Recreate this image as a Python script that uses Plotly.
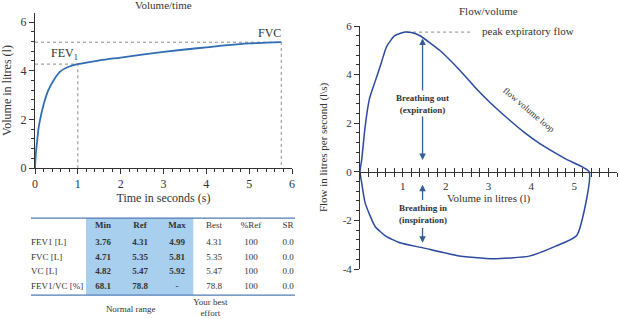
import plotly.graph_objects as go

# ---------------- data ----------------
time_s = [0, 0.02, 0.05, 0.08, 0.12, 0.2, 0.3, 0.45, 0.6, 0.8, 1.0, 1.5, 2, 2.5, 3, 3.5, 4, 4.5, 5, 5.4, 5.75]
volume_l = [0, 0.6, 1.1, 1.6, 2.0, 2.6, 3.15, 3.65, 3.98, 4.17, 4.27, 4.42, 4.54, 4.66, 4.77, 4.87, 4.96, 5.05, 5.12, 5.15, 5.17]
fev1_t, fev1_v = 1.0, 4.27
fvc_t, fvc_v = 5.75, 5.17

loop_vol = [0, 0.04, 0.12, 0.22, 0.35, 0.5, 0.62, 0.81, 1.05, 1.2, 1.4, 1.86, 2.33, 2.7, 3.06, 3.49, 3.85, 4.19, 4.81, 5.35,
            5.06, 4.57, 3.95, 3.10, 2.25, 1.47, 0.93, 0.6, 0.35, 0.12, 0.04, 0]
loop_flow = [0, 0.5, 1.86, 3.0, 3.7, 4.5, 5.15, 5.6, 5.75, 5.73, 5.6, 5.0, 4.18, 3.45, 2.81, 2.13, 1.6, 1.17, 0.52, 0,
             -2.62, -3.06, -3.47, -3.58, -3.44, -3.13, -2.92, -2.65, -2.24, -1.28, -0.46, 0]
pef_vol, pef_flow = 1.1, 5.75

table_rows = ["FEV1 [L]", "FVC [L]", "VC [L]", "FEV1/VC [%]"]
table_cols = ["Min", "Ref", "Max", "Best", "%Ref", "SR"]
table_vals = [
    ["3.76", "4.31", "4.99", "4.31", "100", "0.0"],
    ["4.71", "5.35", "5.81", "5.35", "100", "0.0"],
    ["4.82", "5.47", "5.92", "5.47", "100", "0.0"],
    ["68.1", "78.8", "-", "78.8", "100", "0.0"],
]
normal_cols = [0, 1, 2]
footer_texts = ["Normal range", "Your best<br>effort"]

# ---------------- style ----------------
FONT = "Liberation Serif"
TXT = "#333333"
W, H = 619, 319

fig = go.Figure()

# Left: volume/time
fig.add_trace(go.Scatter(x=[0, fev1_t, fev1_t], y=[fev1_v, fev1_v, 0], mode="lines",
                         line=dict(color="#8a8a8a", width=1, dash="dot"), xaxis="x", yaxis="y", hoverinfo="skip"))
fig.add_trace(go.Scatter(x=[0, fvc_t, fvc_t], y=[fvc_v, fvc_v, 0], mode="lines",
                         line=dict(color="#8a8a8a", width=1, dash="dot"), xaxis="x", yaxis="y", hoverinfo="skip"))
fig.add_trace(go.Scatter(x=time_s, y=volume_l, mode="lines", line=dict(color="#2f6db5", width=1.8, shape="spline"),
                         xaxis="x", yaxis="y"))

# Right: flow/volume
fig.add_trace(go.Scatter(x=[pef_vol, 2.6], y=[pef_flow, pef_flow], mode="lines",
                         line=dict(color="#8a8a8a", width=1, dash="dot"), xaxis="x2", yaxis="y2", hoverinfo="skip"))
fig.add_trace(go.Scatter(x=loop_vol, y=loop_flow, mode="lines", line=dict(color="#2b4a9e", width=1.5, shape="spline", smoothing=0.5),
                         xaxis="x2", yaxis="y2"))
fig.add_trace(go.Scatter(x=[0], y=[0], mode="markers", marker=dict(opacity=0), xaxis="x4", yaxis="y2", hoverinfo="skip"))

# Table (column index / row index coordinates)
col_x = list(range(1, len(table_cols) + 1))
label_x = -0.946
hdr_y = -0.2
row_y = list(range(1, len(table_rows) + 1))
TF = dict(family=FONT, size=9, color=TXT)
fig.add_trace(go.Scatter(x=col_x, y=[hdr_y] * len(table_cols),
                         text=[("<b>%s</b>" % c) if i in normal_cols else c for i, c in enumerate(table_cols)],
                         mode="text", textfont=TF, xaxis="x3", yaxis="y3", hoverinfo="skip"))
for r, (lab, vals) in enumerate(zip(table_rows, table_vals)):
    fig.add_trace(go.Scatter(x=[label_x], y=[row_y[r]], text=[lab], mode="text", textposition="middle right",
                             textfont=TF, xaxis="x3", yaxis="y3", hoverinfo="skip"))
    fig.add_trace(go.Scatter(x=col_x, y=[row_y[r]] * len(vals),
                             text=[("<b>%s</b>" % v) if i in normal_cols else v for i, v in enumerate(vals)],
                             mode="text", textfont=TF, xaxis="x3", yaxis="y3", hoverinfo="skip"))
fig.add_trace(go.Scatter(x=[1.75, 3.9], y=[5.62, 5.5], text=footer_texts, mode="text",
                         textfont=TF, xaxis="x3", yaxis="y3", hoverinfo="skip"))

shapes = [
    dict(type="rect", xref="x3", yref="y3", x0=col_x[normal_cols[0]] - 0.46, x1=col_x[normal_cols[-1]] + 0.44,
         y0=-0.72, y1=4.59, fillcolor="#a8cfee", line=dict(width=0), layer="below"),
    dict(type="line", xref="x3", yref="y3", x0=label_x, x1=6.19, y0=-0.72, y1=-0.72, line=dict(color="#4f7db5", width=1.2)),
    dict(type="line", xref="x3", yref="y3", x0=label_x, x1=6.19, y0=4.59, y1=4.59, line=dict(color="#4f7db5", width=1.2)),
]

ax_common = dict(showline=True, linecolor=TXT, linewidth=1, showgrid=False, zeroline=False, automargin=False,
                 ticks="outside", tickcolor=TXT, tickfont=dict(family=FONT, size=12, color=TXT))
MINUS = "\u2212"

layout = dict(
    width=W, height=H, margin=dict(l=0, r=0, t=0, b=0, autoexpand=False),
    paper_bgcolor="white", plot_bgcolor="rgba(0,0,0,0)", showlegend=False,
    font=dict(family=FONT, color=TXT),
    xaxis=dict(ax_common, domain=[35 / W, 292 / W], range=[0, 6], tickmode="linear", tick0=0, dtick=1, ticklen=5,
               minor=dict(dtick=0.2, ticklen=3, ticks="outside", tickcolor=TXT, showgrid=False), anchor="y",
               title=dict(text="Time in seconds (s)", font=dict(family=FONT, size=12, color=TXT), standoff=2)),
    yaxis=dict(ax_common, domain=[1 - 168 / H, 1 - 13 / H], range=[0, 6.37], tickmode="linear", tick0=0, dtick=2, ticklen=5,
               minor=dict(dtick=0.4, ticklen=3, ticks="outside", tickcolor=TXT, showgrid=False), anchor="x",
               title=dict(text="Volume in litres (l)", font=dict(family=FONT, size=12, color=TXT), standoff=8)),
    xaxis2=dict(ax_common, domain=[360 / W, 617 / W], range=[0, 6], tickmode="linear", tick0=0, dtick=1, ticklen=4,
                labelalias={"0": " "},
                tickfont=dict(family=FONT, size=11, color=TXT),
                minor=dict(dtick=0.2, ticklen=4, ticks="outside", tickcolor=TXT, showgrid=False),
                anchor="free", position=1 - 172 / H,
                title=dict(text="Volume in litres (l)", font=dict(family=FONT, size=11, color=TXT), standoff=2)),
    xaxis4=dict(showline=False, showgrid=False, zeroline=False, automargin=False, domain=[360 / W, 617 / W], range=[0, 6],
                tickmode="linear", tick0=0, dtick=1, ticks="inside", ticklen=4, tickcolor=TXT, showticklabels=False,
                minor=dict(dtick=0.2, ticklen=4, ticks="inside", tickcolor=TXT, showgrid=False),
                anchor="free", position=1 - 172 / H, overlaying="x2"),
    yaxis2=dict(ax_common, domain=[1 - 269 / H, 1 - 26 / H], range=[-4, 6], tickmode="linear", tick0=0, dtick=2,
                labelalias={MINUS + "4": "-4", MINUS + "2": "-2"}, ticklen=5,
                tickfont=dict(family=FONT, size=11, color=TXT),
                minor=dict(dtick=0.4, ticklen=3, ticks="outside", tickcolor=TXT, showgrid=False), anchor="x2",
                title=dict(text="Flow in litres per second (l\\s)", font=dict(family=FONT, size=11, color=TXT), standoff=12)),
    xaxis3=dict(visible=False, domain=[0, 1], range=[-1.7838, 14.946], anchor="y3", automargin=False),
    yaxis3=dict(visible=False, domain=[0, 1], range=[6.241, -15.759], anchor="x3", automargin=False),
    shapes=shapes,
)
fig.update_layout(**layout)

ann = [
    dict(text="Volume/time", x=163 / W, y=1 - 5 / H, xref="paper", yref="paper", showarrow=False,
         font=dict(family=FONT, size=11, color=TXT), xanchor="center", yanchor="middle"),
    dict(text="Flow/volume", x=488 / W, y=1 - 11 / H, xref="paper", yref="paper", showarrow=False,
         font=dict(family=FONT, size=11, color=TXT), xanchor="center", yanchor="middle"),
    dict(text="FEV<sub>1</sub>", x=0.68, y=4.69, xref="x", yref="y", showarrow=False,
         font=dict(family=FONT, size=12, color=TXT)),
    dict(text="FVC", x=5.47, y=5.55, xref="x", yref="y", showarrow=False,
         font=dict(family=FONT, size=12, color=TXT)),
    dict(text="peak expiratory flow", x=2.79, y=5.8, xref="x2", yref="y2", showarrow=False, xanchor="left",
         font=dict(family=FONT, size=11, color=TXT)),
    dict(text="<b>Breathing out</b><br><b>(expiration)</b>", x=1.46, y=2.8, xref="x2", yref="y2", showarrow=False,
         font=dict(family=FONT, size=9, color=TXT)),
    dict(text="<b>Breathing in</b><br><b>(inspiration)</b>", x=1.46, y=-1.73, xref="x2", yref="y2", showarrow=False,
         font=dict(family=FONT, size=9, color=TXT)),
    dict(text="flow volume loop", x=3.95, y=2.55, xref="x2", yref="y2", showarrow=False, textangle=40,
         font=dict(family=FONT, size=9, color=TXT)),
]
arrow_c = "#2f5f99"
for (hx, hy, tx, ty) in [(1.46, 5.49, 1.46, 3.28), (1.46, 0.49, 1.46, 2.34), (1.46, -0.53, 1.46, -1.22), (1.46, -2.92, 1.46, -2.25)]:
    ann.append(dict(text="", x=hx, y=hy, ax=tx, ay=ty, xref="x2", yref="y2", axref="x2", ayref="y2",
                    showarrow=True, arrowhead=2, arrowsize=1, arrowwidth=1.3, arrowcolor=arrow_c))
fig.update_layout(annotations=ann)

fig.write_html("out.html", config={"displayModeBar": False},
               post_script="document.body.style.margin='0';document.body.style.overflow='hidden';")
